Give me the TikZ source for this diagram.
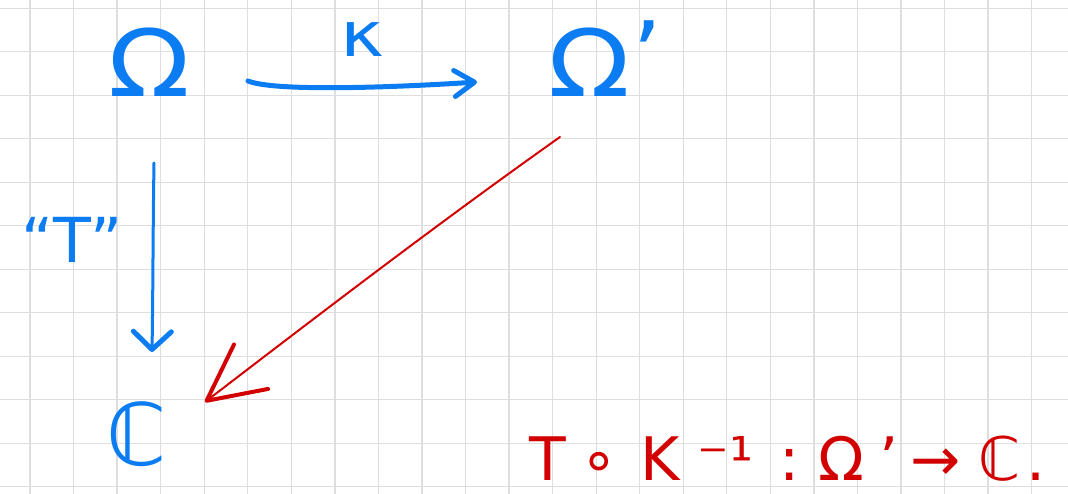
\documentclass[tikz,border=0pt]{standalone}
\usepackage{fontspec}
\setmainfont{DejaVu Sans}
\usetikzlibrary{arrows.meta}
\definecolor{inkblue}{RGB}{12,124,242}
\definecolor{inkred}{RGB}{210,0,0}
\definecolor{gridgray}{RGB}{222,222,222}
\tikzset{
  gridline/.style={draw=gridgray, line width=1.3pt},
  bluetxt/.style={text=inkblue, inner sep=0pt, anchor=base},
  redtxt/.style={text=inkred, inner sep=0pt, anchor=base west},
  bluepen/.style={draw=inkblue, line cap=round, line join=round},
  redpen/.style={draw=inkred, line cap=round, line join=round},
}
\begin{document}
\begin{tikzpicture}[x=1pt,y=-1pt]
\useasboundingbox (0,0) rectangle (1068,494);
\fill[white] (0,0) rectangle (1068,494);
\foreach \i in {0,...,23} \draw[gridline] ({30+43.55*\i},0) -- ({30+43.55*\i},494);
\foreach \j in {0,...,11} \draw[gridline] (0,{8.3+43.5*\j}) -- (1068,{8.3+43.5*\j});

% nodes
\node[bluetxt, font=\fontsize{93}{93}\selectfont] (om) at (149,97) {\scalebox{1.15}[1]{Ω}};
\node[bluetxt, font=\fontsize{93}{93}\selectfont] (omp) at (605,97) {\scalebox{1.15}[1]{Ω}\hspace{2pt}\raisebox{8pt}{’}};
\node[bluetxt, font=\fontsize{62}{62}\selectfont] (kap) at (362,57) {\scalebox{1.2}[1]{κ}};
\node[bluetxt, font=\fontsize{62}{62}\selectfont] (tlab) at (72,263) {“T”};
\node[bluetxt, font=\fontsize{86}{86}\selectfont] (cc) at (137,465) {ℂ};
\node[redtxt, font=\fontsize{60}{60}\selectfont] (eq) at (529,480)
  {T\hspace{15pt}∘\hspace{22pt}K\hspace{18pt}⁻¹\hspace{26pt}:\hspace{19pt}Ω\hspace{15pt}’\hspace{12pt}→\hspace{18pt}ℂ\hspace{6pt}.};

% connectors
\draw[bluepen, line width=5pt, -{Straight Barb[length=20pt,width=26pt,line width=5pt,round]}]
  ([shift={(99,-16)}]om.base) .. controls +(30,12) and +(-60,4) .. ([shift={(-128,-15)}]omp.base);
\draw[bluepen, line width=3pt, -{Straight Barb[length=18pt,width=38pt,line width=5pt,round]}]
  ([shift={(5,66)}]om.base) .. controls +(-1,60) and +(1,-60) .. ([shift={(15,-113)}]cc.base);
\draw[redpen, line width=2pt, -{Straight Barb[length=56pt,width=56pt,line width=4pt,round]}]
  ([shift={(-45,40)}]omp.base) .. controls +(-120,85) and +(120,-92) .. ([shift={(68,-63)}]cc.base);
\end{tikzpicture}
\end{document}
